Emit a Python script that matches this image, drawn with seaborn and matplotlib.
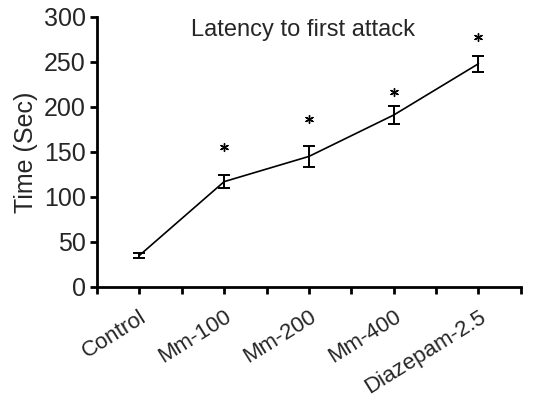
import matplotlib
matplotlib.use("Agg")
import matplotlib.pyplot as plt
import seaborn as sns
import numpy as np
import pandas as pd
from matplotlib.ticker import FixedLocator

categories = ["Control", "Mm-100", "Mm-200", "Mm-400", "Diazepam-2.5"]
means = [35, 117, 145, 191, 248]
errors = [3, 7, 12, 10, 9]
star_pos = [1, 2, 3, 4]
star_y = [155, 187, 217, 278]
yticks = [0, 50, 100, 150, 200, 250, 300]

sns.set_theme(style="ticks")
plt.rcParams['font.family'] = ['Liberation Sans', 'DejaVu Sans']

fig = plt.figure(figsize=(5.49, 4.03), dpi=100)
ax = fig.add_axes([0.1767, 0.288, 0.772, 0.670])

df = pd.DataFrame({"pos": np.arange(len(categories)), "mean": means})
sns.lineplot(data=df, x="pos", y="mean", color="black", linewidth=1.2, ax=ax)
ax.errorbar(df["pos"], df["mean"], yerr=errors, fmt="none", ecolor="black",
            elinewidth=1.4, capsize=4, capthick=1.4)

stars = pd.DataFrame({"pos": star_pos, "y": star_y})
sns.scatterplot(data=stars, x="pos", y="y", marker=(6, 2, 0), s=32,
                color="black", linewidth=1.0, ax=ax, clip_on=False)

ax.set_xlim(-0.5, 4.5)
ax.set_ylim(0, 300)
ax.set_xticks(range(len(categories)))
ax.set_xticklabels(categories, rotation=32, ha="right", rotation_mode="anchor", fontsize=16)
ax.xaxis.set_minor_locator(FixedLocator(np.arange(-0.5, 4.6, 1.0)))
ax.set_yticks(yticks)
ax.set_yticklabels([str(v) for v in yticks], fontsize=18)
ax.tick_params(axis="both", which="both", direction="out", length=5, width=2, color="black")
ax.tick_params(axis="y", pad=3)
ax.tick_params(axis="x", pad=9)
for sp in ["left", "bottom"]:
    ax.spines[sp].set_linewidth(2)
    ax.spines[sp].set_color("black")
ax.spines["top"].set_visible(False)
ax.spines["right"].set_visible(False)

ax.set_xlabel("")
ax.set_ylabel("Time (Sec)", fontsize=18, labelpad=4)
ax.text(0.485, 0.95, "Latency to first attack", transform=ax.transAxes,
        ha="center", va="center", fontsize=17)

fig.savefig("out.png", dpi=100)
